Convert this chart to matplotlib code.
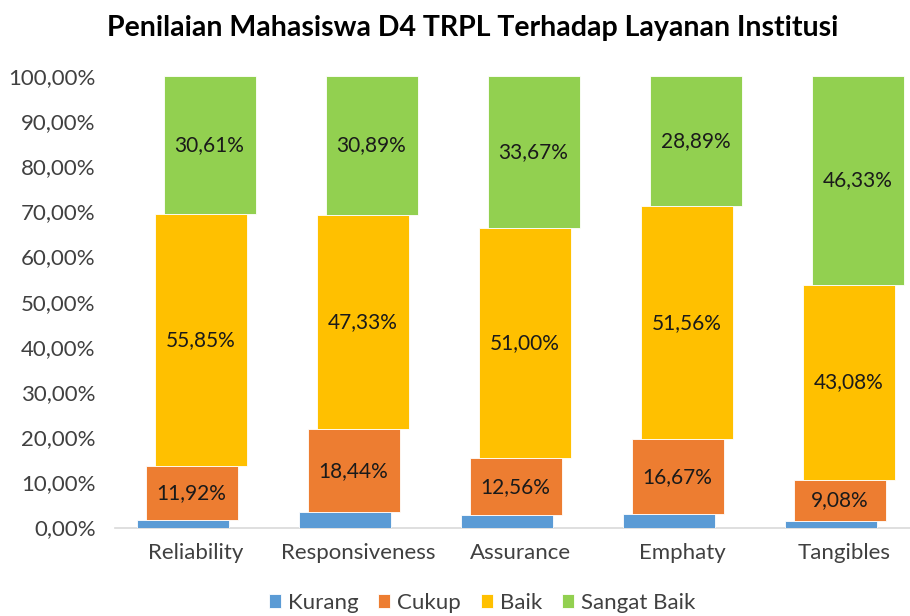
import matplotlib
matplotlib.use("Agg")
import matplotlib.pyplot as plt
import numpy as np

categories = ["Reliability", "Responsiveness", "Assurance", "Emphaty", "Tangibles"]
series_names = ["Kurang", "Cukup", "Baik", "Sangat Baik"]
kurang = [1.62, 3.34, 2.77, 2.88, 1.51]
cukup = [11.92, 18.44, 12.56, 16.67, 9.08]
baik = [55.85, 47.33, 51.00, 51.56, 43.08]
sangat_baik = [30.61, 30.89, 33.67, 28.89, 46.33]
yticks = [0, 10, 20, 30, 40, 50, 60, 70, 80, 90, 100]
colors = ["#5B9BD5", "#ED7D31", "#FFC000", "#92D050"]

plt.rcParams['font.family'] = ['Lato', 'DejaVu Sans']

W, H = 910, 616
fig = plt.figure(figsize=(W/100, H/100), dpi=100)
left_px, right_px = 115, 910
bot_px, top_px = 527.5, 75.7
ax = fig.add_axes([left_px/W, (H-bot_px)/H, (right_px-left_px)/W, (bot_px-top_px)/H])

px_per_cat = 162.0
xlim_hi = -0.5 + (right_px-left_px)/px_per_cat
ax.set_xlim(-0.5, xlim_hi)
ax.set_ylim(0, 100)

x = np.arange(len(categories))
width = 92/px_per_cat
offsets = np.array([-13.5, -4.5, 4.5, 13.5])/px_per_cat
data = [kurang, cukup, baik, sangat_baik]
bottom = np.zeros(len(categories))
for i, (name, vals) in enumerate(zip(series_names, data)):
    vals = np.array(vals)
    ax.bar(x + offsets[i], vals, width, bottom=bottom, color=colors[i],
           label=name, edgecolor="white", linewidth=0.6, zorder=2+i)
    if i > 0:
        for xi, b, v in zip(x + offsets[i], bottom, vals):
            ax.text(xi, b + v/2, f"{v:.2f}%".replace(".", ","), ha="center",
                    va="center", fontsize=15, color="#1a1a1a", zorder=10)
    bottom = bottom + vals

for s in ["top", "right", "left"]:
    ax.spines[s].set_visible(False)
ax.spines["bottom"].set_color("#D9D9D9")
ax.spines["bottom"].set_linewidth(1.2)
ax.spines["bottom"].set_zorder(1)

ax.set_yticks(yticks)
ax.set_yticklabels([f"{t:.2f}%".replace(".", ",") for t in yticks], fontsize=16, color="#404040")
ax.set_xticks(x)
ax.set_xticklabels(categories, fontsize=16, color="#404040")
ax.tick_params(axis="both", length=0)
ax.tick_params(axis="x", pad=11)
ax.tick_params(axis="y", pad=14)

fig.text(473/W, 1-28/H, "Penilaian Mahasiswa D4 TRPL Terhadap Layanan Institusi",
         ha="center", va="center", fontsize=20.5, fontweight="bold", color="#000000")

fig.legend(loc="center", bbox_to_anchor=(482/W, 1-603/H), ncol=4, frameon=False,
           fontsize=16, handlelength=0.55, handleheight=0.55, handletextpad=0.3,
           columnspacing=0.9, labelcolor="#404040")

fig.savefig("out.png", dpi=100)
